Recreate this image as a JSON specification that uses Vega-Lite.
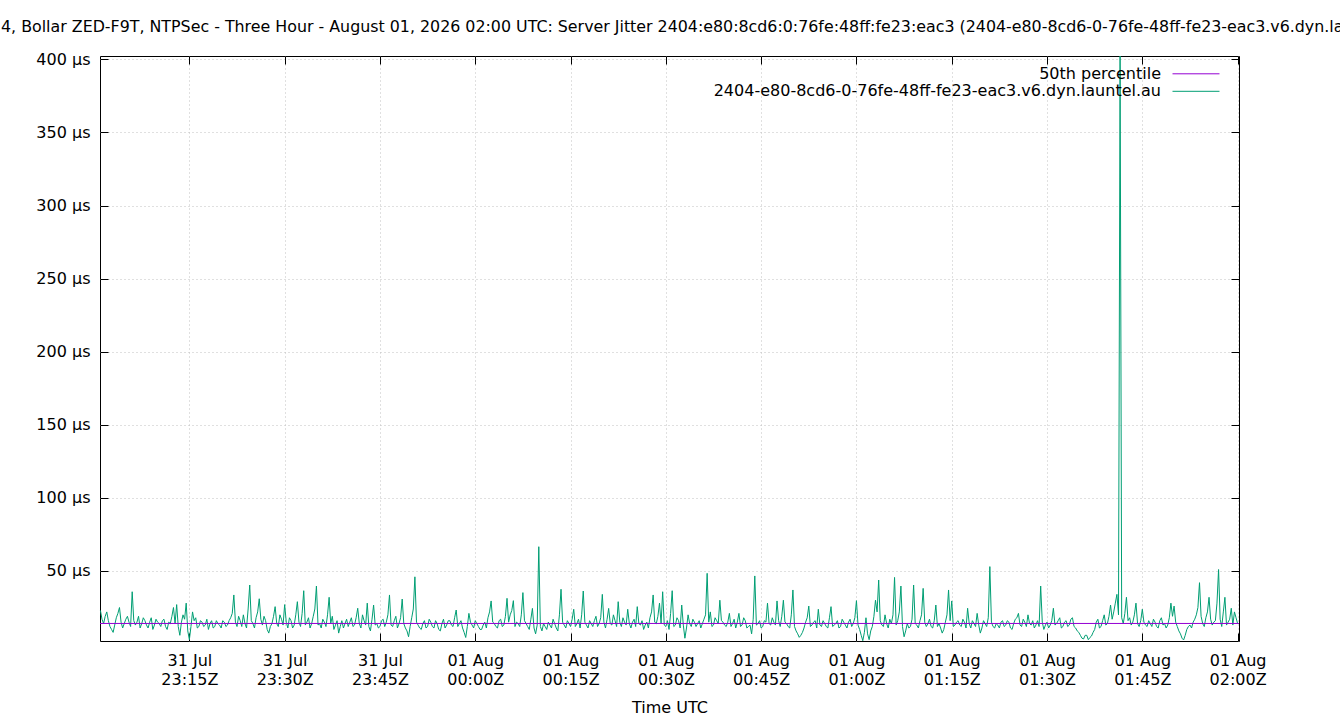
{
  "$schema": "https://vega.github.io/schema/vega-lite/v6.json",
  "autosize": {"type": "none"},
  "width": 1139,
  "height": 585,
  "padding": {"left": 100, "top": 56, "right": 101, "bottom": 79},
  "background": "white",
  "title": {
    "text": "4, Bollar ZED-F9T, NTPSec - Three Hour - August 01, 2026 02:00 UTC: Server Jitter 2404:e80:8cd6:0:76fe:48ff:fe23:eac3 (2404-e80-8cd6-0-76fe-48ff-fe23-eac3.v6.dyn.launtel.au)",
    "anchor": "start",
    "frame": "group",
    "dx": -99,
    "offset": 3.5,
    "baseline": "alphabetic",
    "font": "DejaVu Sans",
    "fontSize": 15.85,
    "fontWeight": "normal",
    "color": "black"
  },
  "config": {
    "font": "DejaVu Sans",
    "view": {"stroke": "black", "strokeWidth": 1},
    "axis": {
      "labelFont": "DejaVu Sans",
      "labelFontSize": 16,
      "labelColor": "black",
      "titleFont": "DejaVu Sans",
      "titleFontSize": 16,
      "titleFontWeight": "normal",
      "titleColor": "black",
      "domain": false,
      "tickColor": "black",
      "tickSize": -8,
      "tickWidth": 1,
      "gridColor": "#c0c0c0",
      "gridDash": [1, 3],
      "gridWidth": 1
    }
  },
  "datasets": {
    "median": [{"series": "50th percentile", "v": 14.1}],
    "jitter": [
      {"t": "2026-07-31T23:01:00Z", "v": 23}, {"t": "2026-07-31T23:01:15Z", "v": 17}, {"t": "2026-07-31T23:01:30Z", "v": 14}, {"t": "2026-07-31T23:01:45Z", "v": 19},
      {"t": "2026-07-31T23:02:00Z", "v": 22}, {"t": "2026-07-31T23:02:15Z", "v": 16}, {"t": "2026-07-31T23:02:30Z", "v": 12}, {"t": "2026-07-31T23:02:45Z", "v": 10},
      {"t": "2026-07-31T23:03:00Z", "v": 8}, {"t": "2026-07-31T23:03:15Z", "v": 13}, {"t": "2026-07-31T23:03:30Z", "v": 18}, {"t": "2026-07-31T23:03:45Z", "v": 21},
      {"t": "2026-07-31T23:04:00Z", "v": 25}, {"t": "2026-07-31T23:04:15Z", "v": 15}, {"t": "2026-07-31T23:04:30Z", "v": 11}, {"t": "2026-07-31T23:04:45Z", "v": 14},
      {"t": "2026-07-31T23:05:00Z", "v": 17}, {"t": "2026-07-31T23:05:15Z", "v": 19}, {"t": "2026-07-31T23:05:30Z", "v": 15}, {"t": "2026-07-31T23:05:45Z", "v": 12},
      {"t": "2026-07-31T23:06:00Z", "v": 35.8}, {"t": "2026-07-31T23:06:15Z", "v": 16}, {"t": "2026-07-31T23:06:30Z", "v": 13}, {"t": "2026-07-31T23:06:45Z", "v": 15},
      {"t": "2026-07-31T23:07:00Z", "v": 19}, {"t": "2026-07-31T23:07:15Z", "v": 11}, {"t": "2026-07-31T23:07:30Z", "v": 14}, {"t": "2026-07-31T23:07:45Z", "v": 18},
      {"t": "2026-07-31T23:08:00Z", "v": 16}, {"t": "2026-07-31T23:08:15Z", "v": 13}, {"t": "2026-07-31T23:08:30Z", "v": 11}, {"t": "2026-07-31T23:08:45Z", "v": 15},
      {"t": "2026-07-31T23:09:00Z", "v": 18}, {"t": "2026-07-31T23:09:15Z", "v": 10}, {"t": "2026-07-31T23:09:30Z", "v": 13}, {"t": "2026-07-31T23:09:45Z", "v": 17},
      {"t": "2026-07-31T23:10:00Z", "v": 15}, {"t": "2026-07-31T23:10:15Z", "v": 14}, {"t": "2026-07-31T23:10:30Z", "v": 12}, {"t": "2026-07-31T23:10:45Z", "v": 16},
      {"t": "2026-07-31T23:11:00Z", "v": 17}, {"t": "2026-07-31T23:11:15Z", "v": 12}, {"t": "2026-07-31T23:11:30Z", "v": 10}, {"t": "2026-07-31T23:11:45Z", "v": 15},
      {"t": "2026-07-31T23:12:00Z", "v": 14}, {"t": "2026-07-31T23:12:15Z", "v": 19}, {"t": "2026-07-31T23:12:30Z", "v": 25}, {"t": "2026-07-31T23:12:45Z", "v": 14},
      {"t": "2026-07-31T23:13:00Z", "v": 27}, {"t": "2026-07-31T23:13:15Z", "v": 12}, {"t": "2026-07-31T23:13:30Z", "v": 6}, {"t": "2026-07-31T23:13:45Z", "v": 15},
      {"t": "2026-07-31T23:14:00Z", "v": 20}, {"t": "2026-07-31T23:14:15Z", "v": 17}, {"t": "2026-07-31T23:14:30Z", "v": 28}, {"t": "2026-07-31T23:14:45Z", "v": 9},
      {"t": "2026-07-31T23:15:00Z", "v": 3}, {"t": "2026-07-31T23:15:15Z", "v": 12}, {"t": "2026-07-31T23:15:30Z", "v": 22}, {"t": "2026-07-31T23:15:45Z", "v": 16},
      {"t": "2026-07-31T23:16:00Z", "v": 18}, {"t": "2026-07-31T23:16:15Z", "v": 11}, {"t": "2026-07-31T23:16:30Z", "v": 12}, {"t": "2026-07-31T23:16:45Z", "v": 16},
      {"t": "2026-07-31T23:17:00Z", "v": 15}, {"t": "2026-07-31T23:17:15Z", "v": 12}, {"t": "2026-07-31T23:17:30Z", "v": 13}, {"t": "2026-07-31T23:17:45Z", "v": 17},
      {"t": "2026-07-31T23:18:00Z", "v": 10}, {"t": "2026-07-31T23:18:15Z", "v": 14}, {"t": "2026-07-31T23:18:30Z", "v": 16}, {"t": "2026-07-31T23:18:45Z", "v": 11},
      {"t": "2026-07-31T23:19:00Z", "v": 12}, {"t": "2026-07-31T23:19:15Z", "v": 16}, {"t": "2026-07-31T23:19:30Z", "v": 14}, {"t": "2026-07-31T23:19:45Z", "v": 13},
      {"t": "2026-07-31T23:20:00Z", "v": 11}, {"t": "2026-07-31T23:20:15Z", "v": 16}, {"t": "2026-07-31T23:20:30Z", "v": 15}, {"t": "2026-07-31T23:20:45Z", "v": 12},
      {"t": "2026-07-31T23:21:00Z", "v": 13}, {"t": "2026-07-31T23:21:15Z", "v": 16}, {"t": "2026-07-31T23:21:30Z", "v": 18}, {"t": "2026-07-31T23:21:45Z", "v": 21},
      {"t": "2026-07-31T23:22:00Z", "v": 33.6}, {"t": "2026-07-31T23:22:15Z", "v": 15}, {"t": "2026-07-31T23:22:30Z", "v": 12}, {"t": "2026-07-31T23:22:45Z", "v": 19},
      {"t": "2026-07-31T23:23:00Z", "v": 16}, {"t": "2026-07-31T23:23:15Z", "v": 12}, {"t": "2026-07-31T23:23:30Z", "v": 20}, {"t": "2026-07-31T23:23:45Z", "v": 14},
      {"t": "2026-07-31T23:24:00Z", "v": 11}, {"t": "2026-07-31T23:24:15Z", "v": 24}, {"t": "2026-07-31T23:24:30Z", "v": 40.4}, {"t": "2026-07-31T23:24:45Z", "v": 16},
      {"t": "2026-07-31T23:25:00Z", "v": 14}, {"t": "2026-07-31T23:25:15Z", "v": 11}, {"t": "2026-07-31T23:25:30Z", "v": 18}, {"t": "2026-07-31T23:25:45Z", "v": 22},
      {"t": "2026-07-31T23:26:00Z", "v": 31}, {"t": "2026-07-31T23:26:15Z", "v": 17}, {"t": "2026-07-31T23:26:30Z", "v": 13}, {"t": "2026-07-31T23:26:45Z", "v": 19},
      {"t": "2026-07-31T23:27:00Z", "v": 16}, {"t": "2026-07-31T23:27:15Z", "v": 10}, {"t": "2026-07-31T23:27:30Z", "v": 7.5}, {"t": "2026-07-31T23:27:45Z", "v": 12},
      {"t": "2026-07-31T23:28:00Z", "v": 14}, {"t": "2026-07-31T23:28:15Z", "v": 19}, {"t": "2026-07-31T23:28:30Z", "v": 25.6}, {"t": "2026-07-31T23:28:45Z", "v": 14},
      {"t": "2026-07-31T23:29:00Z", "v": 12}, {"t": "2026-07-31T23:29:15Z", "v": 20}, {"t": "2026-07-31T23:29:30Z", "v": 17}, {"t": "2026-07-31T23:29:45Z", "v": 13},
      {"t": "2026-07-31T23:30:00Z", "v": 27}, {"t": "2026-07-31T23:30:15Z", "v": 15}, {"t": "2026-07-31T23:30:30Z", "v": 11}, {"t": "2026-07-31T23:30:45Z", "v": 18},
      {"t": "2026-07-31T23:31:00Z", "v": 16}, {"t": "2026-07-31T23:31:15Z", "v": 11}, {"t": "2026-07-31T23:31:30Z", "v": 13}, {"t": "2026-07-31T23:31:45Z", "v": 20},
      {"t": "2026-07-31T23:32:00Z", "v": 29}, {"t": "2026-07-31T23:32:15Z", "v": 15}, {"t": "2026-07-31T23:32:30Z", "v": 12}, {"t": "2026-07-31T23:32:45Z", "v": 21},
      {"t": "2026-07-31T23:33:00Z", "v": 36.5}, {"t": "2026-07-31T23:33:15Z", "v": 13}, {"t": "2026-07-31T23:33:30Z", "v": 15}, {"t": "2026-07-31T23:33:45Z", "v": 18},
      {"t": "2026-07-31T23:34:00Z", "v": 11}, {"t": "2026-07-31T23:34:15Z", "v": 14}, {"t": "2026-07-31T23:34:30Z", "v": 19}, {"t": "2026-07-31T23:34:45Z", "v": 24},
      {"t": "2026-07-31T23:35:00Z", "v": 39.7}, {"t": "2026-07-31T23:35:15Z", "v": 13}, {"t": "2026-07-31T23:35:30Z", "v": 14}, {"t": "2026-07-31T23:35:45Z", "v": 11},
      {"t": "2026-07-31T23:36:00Z", "v": 17}, {"t": "2026-07-31T23:36:15Z", "v": 15}, {"t": "2026-07-31T23:36:30Z", "v": 12}, {"t": "2026-07-31T23:36:45Z", "v": 20},
      {"t": "2026-07-31T23:37:00Z", "v": 32}, {"t": "2026-07-31T23:37:15Z", "v": 14}, {"t": "2026-07-31T23:37:30Z", "v": 19}, {"t": "2026-07-31T23:37:45Z", "v": 10},
      {"t": "2026-07-31T23:38:00Z", "v": 13}, {"t": "2026-07-31T23:38:15Z", "v": 16}, {"t": "2026-07-31T23:38:30Z", "v": 7.5}, {"t": "2026-07-31T23:38:45Z", "v": 12},
      {"t": "2026-07-31T23:39:00Z", "v": 16}, {"t": "2026-07-31T23:39:15Z", "v": 11}, {"t": "2026-07-31T23:39:30Z", "v": 14}, {"t": "2026-07-31T23:39:45Z", "v": 17},
      {"t": "2026-07-31T23:40:00Z", "v": 12}, {"t": "2026-07-31T23:40:15Z", "v": 15}, {"t": "2026-07-31T23:40:30Z", "v": 18}, {"t": "2026-07-31T23:40:45Z", "v": 12},
      {"t": "2026-07-31T23:41:00Z", "v": 13}, {"t": "2026-07-31T23:41:15Z", "v": 18}, {"t": "2026-07-31T23:41:30Z", "v": 24.5}, {"t": "2026-07-31T23:41:45Z", "v": 14},
      {"t": "2026-07-31T23:42:00Z", "v": 11}, {"t": "2026-07-31T23:42:15Z", "v": 20}, {"t": "2026-07-31T23:42:30Z", "v": 16}, {"t": "2026-07-31T23:42:45Z", "v": 13},
      {"t": "2026-07-31T23:43:00Z", "v": 28}, {"t": "2026-07-31T23:43:15Z", "v": 12}, {"t": "2026-07-31T23:43:30Z", "v": 9}, {"t": "2026-07-31T23:43:45Z", "v": 17},
      {"t": "2026-07-31T23:44:00Z", "v": 26.7}, {"t": "2026-07-31T23:44:15Z", "v": 13}, {"t": "2026-07-31T23:44:30Z", "v": 14}, {"t": "2026-07-31T23:44:45Z", "v": 11},
      {"t": "2026-07-31T23:45:00Z", "v": 12}, {"t": "2026-07-31T23:45:15Z", "v": 16}, {"t": "2026-07-31T23:45:30Z", "v": 17}, {"t": "2026-07-31T23:45:45Z", "v": 12},
      {"t": "2026-07-31T23:46:00Z", "v": 15}, {"t": "2026-07-31T23:46:15Z", "v": 20}, {"t": "2026-07-31T23:46:30Z", "v": 33.6}, {"t": "2026-07-31T23:46:45Z", "v": 13},
      {"t": "2026-07-31T23:47:00Z", "v": 12}, {"t": "2026-07-31T23:47:15Z", "v": 16}, {"t": "2026-07-31T23:47:30Z", "v": 19}, {"t": "2026-07-31T23:47:45Z", "v": 11},
      {"t": "2026-07-31T23:48:00Z", "v": 14}, {"t": "2026-07-31T23:48:15Z", "v": 18}, {"t": "2026-07-31T23:48:30Z", "v": 30.8}, {"t": "2026-07-31T23:48:45Z", "v": 14},
      {"t": "2026-07-31T23:49:00Z", "v": 11}, {"t": "2026-07-31T23:49:15Z", "v": 9}, {"t": "2026-07-31T23:49:30Z", "v": 5}, {"t": "2026-07-31T23:49:45Z", "v": 12},
      {"t": "2026-07-31T23:50:00Z", "v": 18}, {"t": "2026-07-31T23:50:15Z", "v": 24}, {"t": "2026-07-31T23:50:30Z", "v": 46}, {"t": "2026-07-31T23:50:45Z", "v": 15},
      {"t": "2026-07-31T23:51:00Z", "v": 13}, {"t": "2026-07-31T23:51:15Z", "v": 11}, {"t": "2026-07-31T23:51:30Z", "v": 10}, {"t": "2026-07-31T23:51:45Z", "v": 14},
      {"t": "2026-07-31T23:52:00Z", "v": 16}, {"t": "2026-07-31T23:52:15Z", "v": 11}, {"t": "2026-07-31T23:52:30Z", "v": 12}, {"t": "2026-07-31T23:52:45Z", "v": 17},
      {"t": "2026-07-31T23:53:00Z", "v": 15}, {"t": "2026-07-31T23:53:15Z", "v": 12}, {"t": "2026-07-31T23:53:30Z", "v": 11}, {"t": "2026-07-31T23:53:45Z", "v": 16},
      {"t": "2026-07-31T23:54:00Z", "v": 14}, {"t": "2026-07-31T23:54:15Z", "v": 10}, {"t": "2026-07-31T23:54:30Z", "v": 9}, {"t": "2026-07-31T23:54:45Z", "v": 14},
      {"t": "2026-07-31T23:55:00Z", "v": 17}, {"t": "2026-07-31T23:55:15Z", "v": 11}, {"t": "2026-07-31T23:55:30Z", "v": 13}, {"t": "2026-07-31T23:55:45Z", "v": 16},
      {"t": "2026-07-31T23:56:00Z", "v": 16}, {"t": "2026-07-31T23:56:15Z", "v": 13}, {"t": "2026-07-31T23:56:30Z", "v": 12}, {"t": "2026-07-31T23:56:45Z", "v": 18},
      {"t": "2026-07-31T23:57:00Z", "v": 23.3}, {"t": "2026-07-31T23:57:15Z", "v": 12}, {"t": "2026-07-31T23:57:30Z", "v": 14}, {"t": "2026-07-31T23:57:45Z", "v": 16},
      {"t": "2026-07-31T23:58:00Z", "v": 11}, {"t": "2026-07-31T23:58:15Z", "v": 8}, {"t": "2026-07-31T23:58:30Z", "v": 4.5}, {"t": "2026-07-31T23:58:45Z", "v": 12},
      {"t": "2026-07-31T23:59:00Z", "v": 21}, {"t": "2026-07-31T23:59:15Z", "v": 15}, {"t": "2026-07-31T23:59:30Z", "v": 13}, {"t": "2026-07-31T23:59:45Z", "v": 11},
      {"t": "2026-08-01T00:00:00Z", "v": 16}, {"t": "2026-08-01T00:00:15Z", "v": 14}, {"t": "2026-08-01T00:00:30Z", "v": 12}, {"t": "2026-08-01T00:00:45Z", "v": 10},
      {"t": "2026-08-01T00:01:00Z", "v": 10}, {"t": "2026-08-01T00:01:15Z", "v": 13}, {"t": "2026-08-01T00:01:30Z", "v": 15}, {"t": "2026-08-01T00:01:45Z", "v": 11},
      {"t": "2026-08-01T00:02:00Z", "v": 18}, {"t": "2026-08-01T00:02:15Z", "v": 22}, {"t": "2026-08-01T00:02:30Z", "v": 29.5}, {"t": "2026-08-01T00:02:45Z", "v": 15},
      {"t": "2026-08-01T00:03:00Z", "v": 14}, {"t": "2026-08-01T00:03:15Z", "v": 12}, {"t": "2026-08-01T00:03:30Z", "v": 11}, {"t": "2026-08-01T00:03:45Z", "v": 16},
      {"t": "2026-08-01T00:04:00Z", "v": 17}, {"t": "2026-08-01T00:04:15Z", "v": 12}, {"t": "2026-08-01T00:04:30Z", "v": 13}, {"t": "2026-08-01T00:04:45Z", "v": 19},
      {"t": "2026-08-01T00:05:00Z", "v": 31.3}, {"t": "2026-08-01T00:05:15Z", "v": 15}, {"t": "2026-08-01T00:05:30Z", "v": 20}, {"t": "2026-08-01T00:05:45Z", "v": 23},
      {"t": "2026-08-01T00:06:00Z", "v": 29.7}, {"t": "2026-08-01T00:06:15Z", "v": 12}, {"t": "2026-08-01T00:06:30Z", "v": 15}, {"t": "2026-08-01T00:06:45Z", "v": 14},
      {"t": "2026-08-01T00:07:00Z", "v": 12}, {"t": "2026-08-01T00:07:15Z", "v": 20}, {"t": "2026-08-01T00:07:30Z", "v": 35.2}, {"t": "2026-08-01T00:07:45Z", "v": 16},
      {"t": "2026-08-01T00:08:00Z", "v": 14}, {"t": "2026-08-01T00:08:15Z", "v": 12}, {"t": "2026-08-01T00:08:30Z", "v": 10}, {"t": "2026-08-01T00:08:45Z", "v": 17},
      {"t": "2026-08-01T00:09:00Z", "v": 24.4}, {"t": "2026-08-01T00:09:15Z", "v": 11}, {"t": "2026-08-01T00:09:30Z", "v": 7}, {"t": "2026-08-01T00:09:45Z", "v": 13},
      {"t": "2026-08-01T00:10:00Z", "v": 66.6}, {"t": "2026-08-01T00:10:15Z", "v": 12}, {"t": "2026-08-01T00:10:30Z", "v": 9}, {"t": "2026-08-01T00:10:45Z", "v": 14},
      {"t": "2026-08-01T00:11:00Z", "v": 12}, {"t": "2026-08-01T00:11:15Z", "v": 10}, {"t": "2026-08-01T00:11:30Z", "v": 15}, {"t": "2026-08-01T00:11:45Z", "v": 13},
      {"t": "2026-08-01T00:12:00Z", "v": 11}, {"t": "2026-08-01T00:12:15Z", "v": 17}, {"t": "2026-08-01T00:12:30Z", "v": 14}, {"t": "2026-08-01T00:12:45Z", "v": 11},
      {"t": "2026-08-01T00:13:00Z", "v": 9}, {"t": "2026-08-01T00:13:15Z", "v": 20}, {"t": "2026-08-01T00:13:30Z", "v": 37.5}, {"t": "2026-08-01T00:13:45Z", "v": 15},
      {"t": "2026-08-01T00:14:00Z", "v": 13}, {"t": "2026-08-01T00:14:15Z", "v": 11}, {"t": "2026-08-01T00:14:30Z", "v": 16}, {"t": "2026-08-01T00:14:45Z", "v": 14},
      {"t": "2026-08-01T00:15:00Z", "v": 12}, {"t": "2026-08-01T00:15:15Z", "v": 17}, {"t": "2026-08-01T00:15:30Z", "v": 23.8}, {"t": "2026-08-01T00:15:45Z", "v": 12},
      {"t": "2026-08-01T00:16:00Z", "v": 14}, {"t": "2026-08-01T00:16:15Z", "v": 17}, {"t": "2026-08-01T00:16:30Z", "v": 11}, {"t": "2026-08-01T00:16:45Z", "v": 20},
      {"t": "2026-08-01T00:17:00Z", "v": 36.3}, {"t": "2026-08-01T00:17:15Z", "v": 15}, {"t": "2026-08-01T00:17:30Z", "v": 13}, {"t": "2026-08-01T00:17:45Z", "v": 11},
      {"t": "2026-08-01T00:18:00Z", "v": 16}, {"t": "2026-08-01T00:18:15Z", "v": 14}, {"t": "2026-08-01T00:18:30Z", "v": 12}, {"t": "2026-08-01T00:18:45Z", "v": 16},
      {"t": "2026-08-01T00:19:00Z", "v": 19}, {"t": "2026-08-01T00:19:15Z", "v": 12}, {"t": "2026-08-01T00:19:30Z", "v": 14}, {"t": "2026-08-01T00:19:45Z", "v": 18},
      {"t": "2026-08-01T00:20:00Z", "v": 34}, {"t": "2026-08-01T00:20:15Z", "v": 15}, {"t": "2026-08-01T00:20:30Z", "v": 11}, {"t": "2026-08-01T00:20:45Z", "v": 17},
      {"t": "2026-08-01T00:21:00Z", "v": 24.4}, {"t": "2026-08-01T00:21:15Z", "v": 14}, {"t": "2026-08-01T00:21:30Z", "v": 13}, {"t": "2026-08-01T00:21:45Z", "v": 20},
      {"t": "2026-08-01T00:22:00Z", "v": 16}, {"t": "2026-08-01T00:22:15Z", "v": 12}, {"t": "2026-08-01T00:22:30Z", "v": 29}, {"t": "2026-08-01T00:22:45Z", "v": 15},
      {"t": "2026-08-01T00:23:00Z", "v": 12}, {"t": "2026-08-01T00:23:15Z", "v": 18}, {"t": "2026-08-01T00:23:30Z", "v": 15}, {"t": "2026-08-01T00:23:45Z", "v": 13},
      {"t": "2026-08-01T00:24:00Z", "v": 23.8}, {"t": "2026-08-01T00:24:15Z", "v": 14}, {"t": "2026-08-01T00:24:30Z", "v": 11}, {"t": "2026-08-01T00:24:45Z", "v": 15},
      {"t": "2026-08-01T00:25:00Z", "v": 17}, {"t": "2026-08-01T00:25:15Z", "v": 12}, {"t": "2026-08-01T00:25:30Z", "v": 25.6}, {"t": "2026-08-01T00:25:45Z", "v": 14},
      {"t": "2026-08-01T00:26:00Z", "v": 13}, {"t": "2026-08-01T00:26:15Z", "v": 16}, {"t": "2026-08-01T00:26:30Z", "v": 10}, {"t": "2026-08-01T00:26:45Z", "v": 13},
      {"t": "2026-08-01T00:27:00Z", "v": 15}, {"t": "2026-08-01T00:27:15Z", "v": 11}, {"t": "2026-08-01T00:27:30Z", "v": 18}, {"t": "2026-08-01T00:27:45Z", "v": 22},
      {"t": "2026-08-01T00:28:00Z", "v": 33.6}, {"t": "2026-08-01T00:28:15Z", "v": 15}, {"t": "2026-08-01T00:28:30Z", "v": 14}, {"t": "2026-08-01T00:28:45Z", "v": 19},
      {"t": "2026-08-01T00:29:00Z", "v": 28}, {"t": "2026-08-01T00:29:15Z", "v": 14}, {"t": "2026-08-01T00:29:30Z", "v": 35.8}, {"t": "2026-08-01T00:29:45Z", "v": 13},
      {"t": "2026-08-01T00:30:00Z", "v": 12}, {"t": "2026-08-01T00:30:15Z", "v": 16}, {"t": "2026-08-01T00:30:30Z", "v": 10}, {"t": "2026-08-01T00:30:45Z", "v": 21},
      {"t": "2026-08-01T00:31:00Z", "v": 36.5}, {"t": "2026-08-01T00:31:15Z", "v": 12}, {"t": "2026-08-01T00:31:30Z", "v": 13}, {"t": "2026-08-01T00:31:45Z", "v": 18},
      {"t": "2026-08-01T00:32:00Z", "v": 16}, {"t": "2026-08-01T00:32:15Z", "v": 11}, {"t": "2026-08-01T00:32:30Z", "v": 26.7}, {"t": "2026-08-01T00:32:45Z", "v": 13},
      {"t": "2026-08-01T00:33:00Z", "v": 4}, {"t": "2026-08-01T00:33:15Z", "v": 11}, {"t": "2026-08-01T00:33:30Z", "v": 20}, {"t": "2026-08-01T00:33:45Z", "v": 14},
      {"t": "2026-08-01T00:34:00Z", "v": 12}, {"t": "2026-08-01T00:34:15Z", "v": 17}, {"t": "2026-08-01T00:34:30Z", "v": 15}, {"t": "2026-08-01T00:34:45Z", "v": 12},
      {"t": "2026-08-01T00:35:00Z", "v": 14}, {"t": "2026-08-01T00:35:15Z", "v": 16}, {"t": "2026-08-01T00:35:30Z", "v": 11}, {"t": "2026-08-01T00:35:45Z", "v": 14},
      {"t": "2026-08-01T00:36:00Z", "v": 17}, {"t": "2026-08-01T00:36:15Z", "v": 20}, {"t": "2026-08-01T00:36:30Z", "v": 48.4}, {"t": "2026-08-01T00:36:45Z", "v": 15},
      {"t": "2026-08-01T00:37:00Z", "v": 22}, {"t": "2026-08-01T00:37:15Z", "v": 12}, {"t": "2026-08-01T00:37:30Z", "v": 13}, {"t": "2026-08-01T00:37:45Z", "v": 18},
      {"t": "2026-08-01T00:38:00Z", "v": 16}, {"t": "2026-08-01T00:38:15Z", "v": 14}, {"t": "2026-08-01T00:38:30Z", "v": 30}, {"t": "2026-08-01T00:38:45Z", "v": 16},
      {"t": "2026-08-01T00:39:00Z", "v": 15}, {"t": "2026-08-01T00:39:15Z", "v": 13}, {"t": "2026-08-01T00:39:30Z", "v": 12}, {"t": "2026-08-01T00:39:45Z", "v": 15},
      {"t": "2026-08-01T00:40:00Z", "v": 21}, {"t": "2026-08-01T00:40:15Z", "v": 12}, {"t": "2026-08-01T00:40:30Z", "v": 14}, {"t": "2026-08-01T00:40:45Z", "v": 17},
      {"t": "2026-08-01T00:41:00Z", "v": 11}, {"t": "2026-08-01T00:41:15Z", "v": 15}, {"t": "2026-08-01T00:41:30Z", "v": 21}, {"t": "2026-08-01T00:41:45Z", "v": 12},
      {"t": "2026-08-01T00:42:00Z", "v": 13}, {"t": "2026-08-01T00:42:15Z", "v": 18}, {"t": "2026-08-01T00:42:30Z", "v": 16}, {"t": "2026-08-01T00:42:45Z", "v": 11},
      {"t": "2026-08-01T00:43:00Z", "v": 12}, {"t": "2026-08-01T00:43:15Z", "v": 13}, {"t": "2026-08-01T00:43:30Z", "v": 7}, {"t": "2026-08-01T00:43:45Z", "v": 17},
      {"t": "2026-08-01T00:44:00Z", "v": 46.6}, {"t": "2026-08-01T00:44:15Z", "v": 13}, {"t": "2026-08-01T00:44:30Z", "v": 14}, {"t": "2026-08-01T00:44:45Z", "v": 16},
      {"t": "2026-08-01T00:45:00Z", "v": 11}, {"t": "2026-08-01T00:45:15Z", "v": 12}, {"t": "2026-08-01T00:45:30Z", "v": 16}, {"t": "2026-08-01T00:45:45Z", "v": 15},
      {"t": "2026-08-01T00:46:00Z", "v": 28}, {"t": "2026-08-01T00:46:15Z", "v": 14}, {"t": "2026-08-01T00:46:30Z", "v": 13}, {"t": "2026-08-01T00:46:45Z", "v": 18},
      {"t": "2026-08-01T00:47:00Z", "v": 15}, {"t": "2026-08-01T00:47:15Z", "v": 13}, {"t": "2026-08-01T00:47:30Z", "v": 29.5}, {"t": "2026-08-01T00:47:45Z", "v": 16},
      {"t": "2026-08-01T00:48:00Z", "v": 12}, {"t": "2026-08-01T00:48:15Z", "v": 19}, {"t": "2026-08-01T00:48:30Z", "v": 30}, {"t": "2026-08-01T00:48:45Z", "v": 15},
      {"t": "2026-08-01T00:49:00Z", "v": 14}, {"t": "2026-08-01T00:49:15Z", "v": 12}, {"t": "2026-08-01T00:49:30Z", "v": 11}, {"t": "2026-08-01T00:49:45Z", "v": 20},
      {"t": "2026-08-01T00:50:00Z", "v": 37}, {"t": "2026-08-01T00:50:15Z", "v": 12}, {"t": "2026-08-01T00:50:30Z", "v": 9}, {"t": "2026-08-01T00:50:45Z", "v": 7},
      {"t": "2026-08-01T00:51:00Z", "v": 4.6}, {"t": "2026-08-01T00:51:15Z", "v": 6}, {"t": "2026-08-01T00:51:30Z", "v": 8}, {"t": "2026-08-01T00:51:45Z", "v": 11},
      {"t": "2026-08-01T00:52:00Z", "v": 15}, {"t": "2026-08-01T00:52:15Z", "v": 18}, {"t": "2026-08-01T00:52:30Z", "v": 26}, {"t": "2026-08-01T00:52:45Z", "v": 12},
      {"t": "2026-08-01T00:53:00Z", "v": 13}, {"t": "2026-08-01T00:53:15Z", "v": 15}, {"t": "2026-08-01T00:53:30Z", "v": 16}, {"t": "2026-08-01T00:53:45Z", "v": 11},
      {"t": "2026-08-01T00:54:00Z", "v": 23.8}, {"t": "2026-08-01T00:54:15Z", "v": 13}, {"t": "2026-08-01T00:54:30Z", "v": 12}, {"t": "2026-08-01T00:54:45Z", "v": 16},
      {"t": "2026-08-01T00:55:00Z", "v": 14}, {"t": "2026-08-01T00:55:15Z", "v": 12}, {"t": "2026-08-01T00:55:30Z", "v": 11}, {"t": "2026-08-01T00:55:45Z", "v": 18},
      {"t": "2026-08-01T00:56:00Z", "v": 25.6}, {"t": "2026-08-01T00:56:15Z", "v": 12}, {"t": "2026-08-01T00:56:30Z", "v": 13}, {"t": "2026-08-01T00:56:45Z", "v": 14},
      {"t": "2026-08-01T00:57:00Z", "v": 16}, {"t": "2026-08-01T00:57:15Z", "v": 11}, {"t": "2026-08-01T00:57:30Z", "v": 12}, {"t": "2026-08-01T00:57:45Z", "v": 17},
      {"t": "2026-08-01T00:58:00Z", "v": 15}, {"t": "2026-08-01T00:58:15Z", "v": 13}, {"t": "2026-08-01T00:58:30Z", "v": 11}, {"t": "2026-08-01T00:58:45Z", "v": 15},
      {"t": "2026-08-01T00:59:00Z", "v": 17}, {"t": "2026-08-01T00:59:15Z", "v": 12}, {"t": "2026-08-01T00:59:30Z", "v": 14}, {"t": "2026-08-01T00:59:45Z", "v": 18},
      {"t": "2026-08-01T01:00:00Z", "v": 29.7}, {"t": "2026-08-01T01:00:15Z", "v": 13}, {"t": "2026-08-01T01:00:30Z", "v": 10}, {"t": "2026-08-01T01:00:45Z", "v": 6},
      {"t": "2026-08-01T01:01:00Z", "v": 2.3}, {"t": "2026-08-01T01:01:15Z", "v": 8}, {"t": "2026-08-01T01:01:30Z", "v": 18}, {"t": "2026-08-01T01:01:45Z", "v": 7},
      {"t": "2026-08-01T01:02:00Z", "v": 3}, {"t": "2026-08-01T01:02:15Z", "v": 9}, {"t": "2026-08-01T01:02:30Z", "v": 12}, {"t": "2026-08-01T01:02:45Z", "v": 19},
      {"t": "2026-08-01T01:03:00Z", "v": 30}, {"t": "2026-08-01T01:03:15Z", "v": 22}, {"t": "2026-08-01T01:03:30Z", "v": 43.8}, {"t": "2026-08-01T01:03:45Z", "v": 16},
      {"t": "2026-08-01T01:04:00Z", "v": 13}, {"t": "2026-08-01T01:04:15Z", "v": 12}, {"t": "2026-08-01T01:04:30Z", "v": 20}, {"t": "2026-08-01T01:04:45Z", "v": 14},
      {"t": "2026-08-01T01:05:00Z", "v": 11}, {"t": "2026-08-01T01:05:15Z", "v": 17}, {"t": "2026-08-01T01:05:30Z", "v": 14}, {"t": "2026-08-01T01:05:45Z", "v": 20},
      {"t": "2026-08-01T01:06:00Z", "v": 45.6}, {"t": "2026-08-01T01:06:15Z", "v": 13}, {"t": "2026-08-01T01:06:30Z", "v": 16}, {"t": "2026-08-01T01:06:45Z", "v": 22},
      {"t": "2026-08-01T01:07:00Z", "v": 39.7}, {"t": "2026-08-01T01:07:15Z", "v": 12}, {"t": "2026-08-01T01:07:30Z", "v": 5}, {"t": "2026-08-01T01:07:45Z", "v": 9},
      {"t": "2026-08-01T01:08:00Z", "v": 14}, {"t": "2026-08-01T01:08:15Z", "v": 11}, {"t": "2026-08-01T01:08:30Z", "v": 12}, {"t": "2026-08-01T01:08:45Z", "v": 17},
      {"t": "2026-08-01T01:09:00Z", "v": 40.4}, {"t": "2026-08-01T01:09:15Z", "v": 14}, {"t": "2026-08-01T01:09:30Z", "v": 13}, {"t": "2026-08-01T01:09:45Z", "v": 11},
      {"t": "2026-08-01T01:10:00Z", "v": 16}, {"t": "2026-08-01T01:10:15Z", "v": 20}, {"t": "2026-08-01T01:10:30Z", "v": 38.1}, {"t": "2026-08-01T01:10:45Z", "v": 15},
      {"t": "2026-08-01T01:11:00Z", "v": 12}, {"t": "2026-08-01T01:11:15Z", "v": 14}, {"t": "2026-08-01T01:11:30Z", "v": 17}, {"t": "2026-08-01T01:11:45Z", "v": 12},
      {"t": "2026-08-01T01:12:00Z", "v": 11}, {"t": "2026-08-01T01:12:15Z", "v": 16}, {"t": "2026-08-01T01:12:30Z", "v": 26.7}, {"t": "2026-08-01T01:12:45Z", "v": 12},
      {"t": "2026-08-01T01:13:00Z", "v": 14}, {"t": "2026-08-01T01:13:15Z", "v": 11}, {"t": "2026-08-01T01:13:30Z", "v": 7.5}, {"t": "2026-08-01T01:13:45Z", "v": 10},
      {"t": "2026-08-01T01:14:00Z", "v": 15}, {"t": "2026-08-01T01:14:15Z", "v": 20}, {"t": "2026-08-01T01:14:30Z", "v": 37}, {"t": "2026-08-01T01:14:45Z", "v": 16},
      {"t": "2026-08-01T01:15:00Z", "v": 29.5}, {"t": "2026-08-01T01:15:15Z", "v": 12}, {"t": "2026-08-01T01:15:30Z", "v": 13}, {"t": "2026-08-01T01:15:45Z", "v": 15},
      {"t": "2026-08-01T01:16:00Z", "v": 16}, {"t": "2026-08-01T01:16:15Z", "v": 13}, {"t": "2026-08-01T01:16:30Z", "v": 12}, {"t": "2026-08-01T01:16:45Z", "v": 17},
      {"t": "2026-08-01T01:17:00Z", "v": 15}, {"t": "2026-08-01T01:17:15Z", "v": 11}, {"t": "2026-08-01T01:17:30Z", "v": 24.5}, {"t": "2026-08-01T01:17:45Z", "v": 14},
      {"t": "2026-08-01T01:18:00Z", "v": 11}, {"t": "2026-08-01T01:18:15Z", "v": 16}, {"t": "2026-08-01T01:18:30Z", "v": 14}, {"t": "2026-08-01T01:18:45Z", "v": 12},
      {"t": "2026-08-01T01:19:00Z", "v": 21}, {"t": "2026-08-01T01:19:15Z", "v": 13}, {"t": "2026-08-01T01:19:30Z", "v": 7.5}, {"t": "2026-08-01T01:19:45Z", "v": 11},
      {"t": "2026-08-01T01:20:00Z", "v": 16}, {"t": "2026-08-01T01:20:15Z", "v": 14}, {"t": "2026-08-01T01:20:30Z", "v": 12}, {"t": "2026-08-01T01:20:45Z", "v": 18},
      {"t": "2026-08-01T01:21:00Z", "v": 53}, {"t": "2026-08-01T01:21:15Z", "v": 15}, {"t": "2026-08-01T01:21:30Z", "v": 12}, {"t": "2026-08-01T01:21:45Z", "v": 11},
      {"t": "2026-08-01T01:22:00Z", "v": 14}, {"t": "2026-08-01T01:22:15Z", "v": 13}, {"t": "2026-08-01T01:22:30Z", "v": 11}, {"t": "2026-08-01T01:22:45Z", "v": 15},
      {"t": "2026-08-01T01:23:00Z", "v": 16}, {"t": "2026-08-01T01:23:15Z", "v": 12}, {"t": "2026-08-01T01:23:30Z", "v": 13}, {"t": "2026-08-01T01:23:45Z", "v": 16},
      {"t": "2026-08-01T01:24:00Z", "v": 15}, {"t": "2026-08-01T01:24:15Z", "v": 11}, {"t": "2026-08-01T01:24:30Z", "v": 10}, {"t": "2026-08-01T01:24:45Z", "v": 14},
      {"t": "2026-08-01T01:25:00Z", "v": 17}, {"t": "2026-08-01T01:25:15Z", "v": 18}, {"t": "2026-08-01T01:25:30Z", "v": 21}, {"t": "2026-08-01T01:25:45Z", "v": 13},
      {"t": "2026-08-01T01:26:00Z", "v": 12}, {"t": "2026-08-01T01:26:15Z", "v": 17}, {"t": "2026-08-01T01:26:30Z", "v": 15}, {"t": "2026-08-01T01:26:45Z", "v": 12},
      {"t": "2026-08-01T01:27:00Z", "v": 20}, {"t": "2026-08-01T01:27:15Z", "v": 14}, {"t": "2026-08-01T01:27:30Z", "v": 13}, {"t": "2026-08-01T01:27:45Z", "v": 16},
      {"t": "2026-08-01T01:28:00Z", "v": 11}, {"t": "2026-08-01T01:28:15Z", "v": 13}, {"t": "2026-08-01T01:28:30Z", "v": 16}, {"t": "2026-08-01T01:28:45Z", "v": 12},
      {"t": "2026-08-01T01:29:00Z", "v": 39.7}, {"t": "2026-08-01T01:29:15Z", "v": 15}, {"t": "2026-08-01T01:29:30Z", "v": 10}, {"t": "2026-08-01T01:29:45Z", "v": 13},
      {"t": "2026-08-01T01:30:00Z", "v": 15}, {"t": "2026-08-01T01:30:15Z", "v": 11}, {"t": "2026-08-01T01:30:30Z", "v": 13}, {"t": "2026-08-01T01:30:45Z", "v": 16},
      {"t": "2026-08-01T01:31:00Z", "v": 24.5}, {"t": "2026-08-01T01:31:15Z", "v": 13}, {"t": "2026-08-01T01:31:30Z", "v": 14}, {"t": "2026-08-01T01:31:45Z", "v": 16},
      {"t": "2026-08-01T01:32:00Z", "v": 18}, {"t": "2026-08-01T01:32:15Z", "v": 11}, {"t": "2026-08-01T01:32:30Z", "v": 12}, {"t": "2026-08-01T01:32:45Z", "v": 15},
      {"t": "2026-08-01T01:33:00Z", "v": 16}, {"t": "2026-08-01T01:33:15Z", "v": 12}, {"t": "2026-08-01T01:33:30Z", "v": 13}, {"t": "2026-08-01T01:33:45Z", "v": 17},
      {"t": "2026-08-01T01:34:00Z", "v": 18}, {"t": "2026-08-01T01:34:15Z", "v": 12}, {"t": "2026-08-01T01:34:30Z", "v": 11}, {"t": "2026-08-01T01:34:45Z", "v": 9},
      {"t": "2026-08-01T01:35:00Z", "v": 8}, {"t": "2026-08-01T01:35:15Z", "v": 6}, {"t": "2026-08-01T01:35:30Z", "v": 4}, {"t": "2026-08-01T01:35:45Z", "v": 3.5},
      {"t": "2026-08-01T01:36:00Z", "v": 6}, {"t": "2026-08-01T01:36:15Z", "v": 6}, {"t": "2026-08-01T01:36:30Z", "v": 3}, {"t": "2026-08-01T01:36:45Z", "v": 4.5},
      {"t": "2026-08-01T01:37:00Z", "v": 5.5}, {"t": "2026-08-01T01:37:15Z", "v": 8}, {"t": "2026-08-01T01:37:30Z", "v": 10}, {"t": "2026-08-01T01:37:45Z", "v": 15},
      {"t": "2026-08-01T01:38:00Z", "v": 17}, {"t": "2026-08-01T01:38:15Z", "v": 11}, {"t": "2026-08-01T01:38:30Z", "v": 12}, {"t": "2026-08-01T01:38:45Z", "v": 16},
      {"t": "2026-08-01T01:39:00Z", "v": 20}, {"t": "2026-08-01T01:39:15Z", "v": 13}, {"t": "2026-08-01T01:39:30Z", "v": 14}, {"t": "2026-08-01T01:39:45Z", "v": 19},
      {"t": "2026-08-01T01:40:00Z", "v": 26.7}, {"t": "2026-08-01T01:40:15Z", "v": 17}, {"t": "2026-08-01T01:40:30Z", "v": 22}, {"t": "2026-08-01T01:40:45Z", "v": 28},
      {"t": "2026-08-01T01:41:00Z", "v": 34}, {"t": "2026-08-01T01:41:15Z", "v": 20}, {"t": "2026-08-01T01:41:30Z", "v": 402.3}, {"t": "2026-08-01T01:41:45Z", "v": 18},
      {"t": "2026-08-01T01:42:00Z", "v": 14}, {"t": "2026-08-01T01:42:15Z", "v": 21}, {"t": "2026-08-01T01:42:30Z", "v": 32}, {"t": "2026-08-01T01:42:45Z", "v": 16},
      {"t": "2026-08-01T01:43:00Z", "v": 18}, {"t": "2026-08-01T01:43:15Z", "v": 13}, {"t": "2026-08-01T01:43:30Z", "v": 15}, {"t": "2026-08-01T01:43:45Z", "v": 20},
      {"t": "2026-08-01T01:44:00Z", "v": 28}, {"t": "2026-08-01T01:44:15Z", "v": 14}, {"t": "2026-08-01T01:44:30Z", "v": 12}, {"t": "2026-08-01T01:44:45Z", "v": 16},
      {"t": "2026-08-01T01:45:00Z", "v": 23.8}, {"t": "2026-08-01T01:45:15Z", "v": 15}, {"t": "2026-08-01T01:45:30Z", "v": 13}, {"t": "2026-08-01T01:45:45Z", "v": 12},
      {"t": "2026-08-01T01:46:00Z", "v": 16}, {"t": "2026-08-01T01:46:15Z", "v": 14}, {"t": "2026-08-01T01:46:30Z", "v": 12}, {"t": "2026-08-01T01:46:45Z", "v": 17},
      {"t": "2026-08-01T01:47:00Z", "v": 15}, {"t": "2026-08-01T01:47:15Z", "v": 12}, {"t": "2026-08-01T01:47:30Z", "v": 11}, {"t": "2026-08-01T01:47:45Z", "v": 16},
      {"t": "2026-08-01T01:48:00Z", "v": 18}, {"t": "2026-08-01T01:48:15Z", "v": 13}, {"t": "2026-08-01T01:48:30Z", "v": 14}, {"t": "2026-08-01T01:48:45Z", "v": 11},
      {"t": "2026-08-01T01:49:00Z", "v": 13}, {"t": "2026-08-01T01:49:15Z", "v": 18}, {"t": "2026-08-01T01:49:30Z", "v": 28}, {"t": "2026-08-01T01:49:45Z", "v": 19},
      {"t": "2026-08-01T01:50:00Z", "v": 26}, {"t": "2026-08-01T01:50:15Z", "v": 15}, {"t": "2026-08-01T01:50:30Z", "v": 12}, {"t": "2026-08-01T01:50:45Z", "v": 9},
      {"t": "2026-08-01T01:51:00Z", "v": 7}, {"t": "2026-08-01T01:51:15Z", "v": 4}, {"t": "2026-08-01T01:51:30Z", "v": 2.8}, {"t": "2026-08-01T01:51:45Z", "v": 6},
      {"t": "2026-08-01T01:52:00Z", "v": 10}, {"t": "2026-08-01T01:52:15Z", "v": 12}, {"t": "2026-08-01T01:52:30Z", "v": 13}, {"t": "2026-08-01T01:52:45Z", "v": 11},
      {"t": "2026-08-01T01:53:00Z", "v": 15}, {"t": "2026-08-01T01:53:15Z", "v": 17}, {"t": "2026-08-01T01:53:30Z", "v": 20}, {"t": "2026-08-01T01:53:45Z", "v": 25},
      {"t": "2026-08-01T01:54:00Z", "v": 42}, {"t": "2026-08-01T01:54:15Z", "v": 19}, {"t": "2026-08-01T01:54:30Z", "v": 14}, {"t": "2026-08-01T01:54:45Z", "v": 12},
      {"t": "2026-08-01T01:55:00Z", "v": 18}, {"t": "2026-08-01T01:55:15Z", "v": 22}, {"t": "2026-08-01T01:55:30Z", "v": 32}, {"t": "2026-08-01T01:55:45Z", "v": 17},
      {"t": "2026-08-01T01:56:00Z", "v": 13}, {"t": "2026-08-01T01:56:15Z", "v": 15}, {"t": "2026-08-01T01:56:30Z", "v": 16}, {"t": "2026-08-01T01:56:45Z", "v": 28},
      {"t": "2026-08-01T01:57:00Z", "v": 51}, {"t": "2026-08-01T01:57:15Z", "v": 17}, {"t": "2026-08-01T01:57:30Z", "v": 12}, {"t": "2026-08-01T01:57:45Z", "v": 22},
      {"t": "2026-08-01T01:58:00Z", "v": 32}, {"t": "2026-08-01T01:58:15Z", "v": 13}, {"t": "2026-08-01T01:58:30Z", "v": 15}, {"t": "2026-08-01T01:58:45Z", "v": 17},
      {"t": "2026-08-01T01:59:00Z", "v": 24.5}, {"t": "2026-08-01T01:59:15Z", "v": 13}, {"t": "2026-08-01T01:59:30Z", "v": 22}, {"t": "2026-08-01T01:59:45Z", "v": 18},
      {"t": "2026-08-01T02:00:00Z", "v": 14}
    ]
  },
  "resolve": {"axis": {"x": "independent", "y": "independent"}},
  "layer": [
    {
      "data": {"name": "jitter"},
      "mark": {"type": "line", "strokeWidth": 1},
      "encoding": {
        "x": {
          "field": "t",
          "type": "temporal",
          "scale": {"domain": [1785538856000, 1785549613000]},
          "axis": {
            "orient": "bottom",
            "title": "Time UTC",
            "values": [1785539700000, 1785540600000, 1785541500000, 1785542400000, 1785543300000, 1785544200000, 1785545100000, 1785546000000, 1785546900000, 1785547800000, 1785548700000, 1785549600000],
            "labelExpr": "[utcFormat(datum.value, '%d %b'), utcFormat(datum.value, '%H:%MZ')]",
            "labelBaseline": "top",
            "labelLineHeight": 19,
            "labelPadding": 19,
            "labelFlush": false,
            "labelOverlap": false,
            "titlePadding": 12,
            "grid": true
          }
        },
        "y": {
          "field": "v",
          "type": "quantitative",
          "scale": {"domain": [2.1, 402.3], "nice": false, "zero": false},
          "axis": {
            "orient": "left",
            "title": null,
            "values": [50, 100, 150, 200, 250, 300, 350, 400],
            "labelExpr": "datum.value + ' µs'",
            "labelPadding": 18,
            "grid": true
          }
        },
        "color": {
          "datum": "2404-e80-8cd6-0-76fe-48ff-fe23-eac3.v6.dyn.launtel.au",
          "type": "nominal",
          "title": null,
          "scale": {
            "domain": ["50th percentile", "2404-e80-8cd6-0-76fe-48ff-fe23-eac3.v6.dyn.launtel.au"],
            "range": ["#9400d3", "#009e73"]
          },
          "legend": {
            "title": null,
            "orient": "none",
            "legendX": 1088,
            "legendY": 9.8,
            "direction": "vertical",
            "symbolType": "M-3.133,0H3.133",
            "symbolSize": 225,
            "symbolStrokeWidth": 1,
            "labelAlign": "right",
            "labelOffset": -43,
            "labelFont": "DejaVu Sans",
            "labelFontSize": 16,
            "labelColor": "black",
            "labelLimit": 1000,
            "padding": 0,
            "rowPadding": 1.5,
            "encode": {
              "symbols": {
                "update": {
                  "stroke": {"scale": "color", "field": "value"},
                  "strokeWidth": {"value": 1},
                  "fill": {"value": "transparent"},
                  "opacity": {"value": 1}
                }
              }
            }
          }
        }
      }
    },
    {
      "data": {"name": "median"},
      "mark": {"type": "rule", "strokeWidth": 1},
      "encoding": {
        "y": {"field": "v", "type": "quantitative", "scale": {"domain": [2.1, 402.3], "nice": false, "zero": false}, "axis": null},
        "color": {"field": "series", "type": "nominal", "title": null, "legend": {"title": null}}
      }
    },
    {
      "data": {"name": "jitter"},
      "mark": {"type": "line", "opacity": 0},
      "encoding": {
        "x": {
          "field": "t",
          "type": "temporal",
          "scale": {"domain": [1785538856000, 1785549613000]},
          "axis": {
            "orient": "top",
            "title": null,
            "labels": false,
            "grid": false,
            "values": [1785539700000, 1785540600000, 1785541500000, 1785542400000, 1785543300000, 1785544200000, 1785545100000, 1785546000000, 1785546900000, 1785547800000, 1785548700000, 1785549600000]
          }
        },
        "y": {
          "field": "v",
          "type": "quantitative",
          "scale": {"domain": [2.1, 402.3], "nice": false, "zero": false},
          "axis": {
            "orient": "right",
            "title": null,
            "labels": false,
            "grid": false,
            "values": [50, 100, 150, 200, 250, 300, 350, 400]
          }
        }
      }
    }
  ]
}
